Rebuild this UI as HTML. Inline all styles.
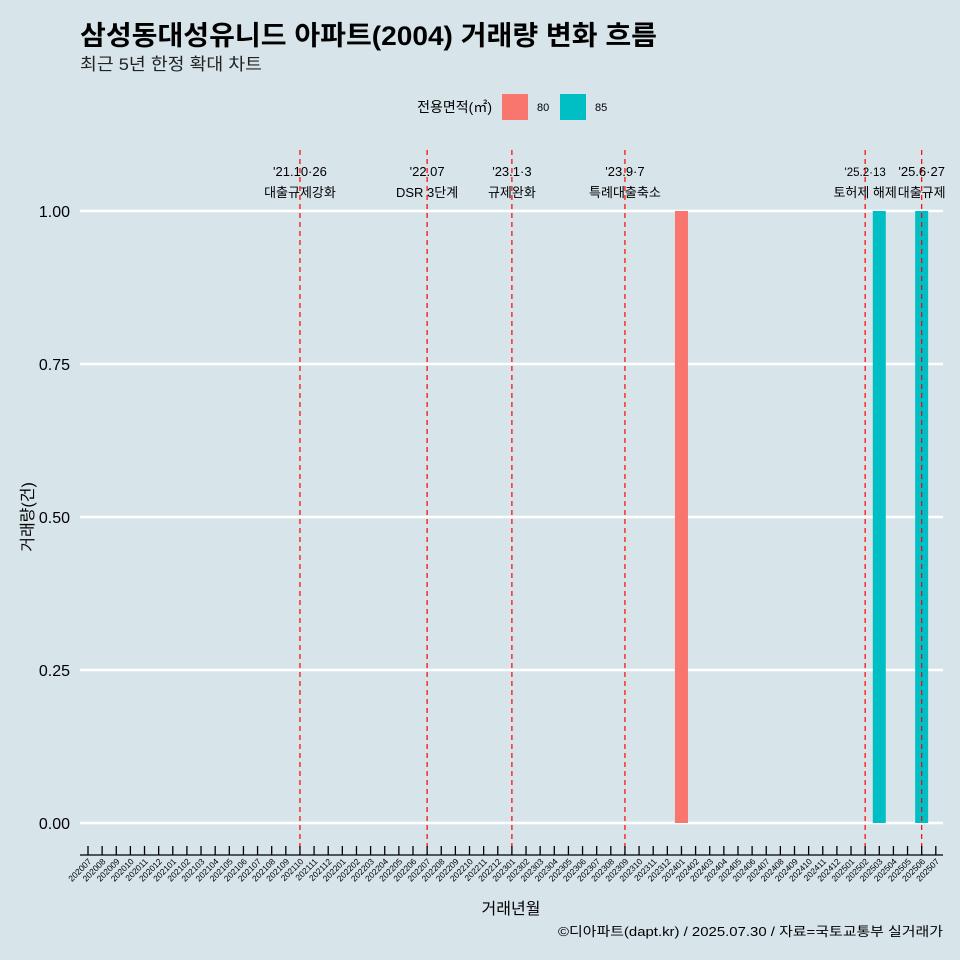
<!DOCTYPE html>
<html><head><meta charset="utf-8"><style>
body{margin:0;background:#d7e4ea;}
svg{display:block;font-family:"Liberation Sans","Noto Sans CJK KR",sans-serif;}
</style></head><body>
<svg id="c" width="960" height="960">
<rect width="960" height="960" fill="#d7e4ea"/>
<text x="80" y="45" font-size="27" font-weight="bold" fill="#000" textLength="577" lengthAdjust="spacingAndGlyphs">삼성동대성유니드 아파트(2004) 거래량 변화 흐름</text>
<text x="80" y="70" font-size="17" fill="#222" textLength="182" lengthAdjust="spacingAndGlyphs">최근 5년 한정 확대 차트</text>
<g>
<text x="492" y="112" font-size="14" text-anchor="end">전용면적(㎡)</text>
<rect x="502" y="94" width="26" height="26" fill="#f8766d"/>
<text x="537" y="111" font-size="11">80</text>
<rect x="560" y="94" width="26" height="26" fill="#00bfc4"/>
<text x="595" y="111" font-size="11">85</text>
</g>
<g id="grid"></g><g id="yaxis"></g><g id="bars"></g><g id="vlines"></g><g id="xaxis"></g>
<text transform="translate(33,517) rotate(-90)" font-size="16" text-anchor="middle">거래량(건)</text>
<text x="511" y="914" font-size="16" text-anchor="middle">거래년월</text>
<text x="943" y="936" font-size="13" text-anchor="end" textLength="385" lengthAdjust="spacingAndGlyphs">©디아파트(dapt.kr) / 2025.07.30 / 자료=국토교통부 실거래가</text>
</svg>
<script>
const months=[];for(let y=2020;y<=2025;y++)for(let m=1;m<=12;m++){const k=y*100+m;if(k>=202007&&k<=202507)months.push(String(k));}
const yTicks=[0,0.25,0.5,0.75,1];
const yTickLabels=["0.00","0.25","0.50","0.75","1.00"];
const barMonths=["202401","202503","202506"];
const barValues=[1,1,1];
const barAreas=["80","85","85"];
const eventMonths=["202110","202207","202301","202309","202502","202506"];
const eventLine1=["'21.10·26","'22.07","'23.1·3","'23.9·7","'25.2·13","'25.6·27"];
const eventLine2=["대출규제강화","DSR 3단계","규제완화","특례대출축소","토허제 해제","대출규제"];
const colors={"80":"#f8766d","85":"#00bfc4"};
const NS="http://www.w3.org/2000/svg";
const x=m=>88+months.indexOf(m)*14.13;
const y=v=>823-v*612;
function mk(t,a,p,txt){const e=document.createElementNS(NS,t);for(const k in a)e.setAttribute(k,a[k]);if(txt!==undefined)e.textContent=txt;document.getElementById(p).appendChild(e);return e;}
yTicks.forEach((v,i)=>{
 const g=mk("line",{x1:80,x2:943,y1:y(v),y2:y(v),stroke:"#fff","stroke-width":2.5},"grid");
 
 
 const t=mk("text",{x:70,y:y(v)+6,"font-size":16,"text-anchor":"end"},"yaxis",yTickLabels[i]);
 
 
});
barMonths.forEach((m,i)=>{
 const r=mk("rect",{x:x(m)-6.5,y:y(barValues[i]),width:13,height:y(0)-y(barValues[i]),fill:colors[barAreas[i]]},"bars");
 
 
});
eventMonths.forEach((m,i)=>{
 const l=mk("line",{x1:x(m),x2:x(m),y1:150,y2:855,stroke:"#ff0000","stroke-width":1.2,"stroke-dasharray":"5,4"},"vlines");
 
 
 const fs=(i==4)?11.5:13;
 const a=mk("text",{x:x(m),y:176,"font-size":fs,"text-anchor":"middle"},"vlines",eventLine1[i]);
 
 
 const b=mk("text",{x:x(m),y:197,"font-size":13,"text-anchor":"middle"},"vlines",eventLine2[i]);
 
 
});
const ax=mk("line",{x1:80,x2:943,y1:855,y2:855,stroke:"#000","stroke-width":1.3},"xaxis");


months.forEach(m=>{
 const t=mk("line",{x1:x(m),x2:x(m),y1:846,y2:855,stroke:"#000","stroke-width":1.3},"xaxis");
 
 
 const l=mk("text",{transform:`translate(${x(m)+4},862) rotate(-45)`,"font-size":8.5,"text-anchor":"end"},"xaxis",m);
 
 
});
</script>
</body></html>
